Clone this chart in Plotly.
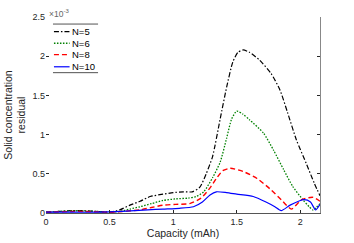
import plotly.graph_objects as go

# values in units of 1e-3
x5 = [0, 0.1, 0.2, 0.3, 0.4, 0.5, 0.58, 0.66, 0.74, 0.82, 0.92, 1.0, 1.08, 1.15, 1.21, 1.26, 1.31, 1.37, 1.42, 1.47, 1.51, 1.55, 1.6, 1.68, 1.77, 1.84, 1.90, 1.97, 2.05, 2.11, 2.155]
y5 = [0.01, 0.02, 0.03, 0.03, 0.02, 0.01, 0.04, 0.10, 0.15, 0.21, 0.24, 0.26, 0.27, 0.27, 0.33, 0.5, 0.72, 1.2, 1.6, 1.93, 2.05, 2.08, 2.05, 1.95, 1.78, 1.57, 1.28, 0.93, 0.62, 0.38, 0.22]

x6 = [0, 0.1, 0.2, 0.3, 0.4, 0.5, 0.58, 0.66, 0.74, 0.83, 0.92, 1.02, 1.12, 1.18, 1.24, 1.31, 1.37, 1.42, 1.46, 1.50, 1.55, 1.60, 1.71, 1.79, 1.87, 1.94, 2.02, 2.07, 2.10, 2.155]
y6 = [0.01, 0.02, 0.03, 0.025, 0.02, 0.01, 0.02, 0.05, 0.08, 0.12, 0.16, 0.18, 0.19, 0.21, 0.27, 0.45, 0.65, 0.95, 1.2, 1.3, 1.26, 1.19, 1.02, 0.80, 0.55, 0.34, 0.17, 0.08, 0.04, 0.12]

x8 = [0, 0.1, 0.2, 0.3, 0.4, 0.5, 0.6, 0.74, 0.83, 0.92, 1.02, 1.13, 1.22, 1.29, 1.34, 1.39, 1.45, 1.55, 1.66, 1.76, 1.85, 1.93, 2.01, 2.10, 2.155]
y8 = [0.01, 0.015, 0.02, 0.02, 0.015, 0.01, 0.02, 0.04, 0.07, 0.10, 0.11, 0.12, 0.19, 0.32, 0.44, 0.54, 0.57, 0.53, 0.44, 0.31, 0.17, 0.05, 0.17, 0.20, 0.15]

x10 = [0, 0.2, 0.4, 0.6, 0.8, 0.92, 1.05, 1.16, 1.23, 1.29, 1.34, 1.42, 1.50, 1.63, 1.73, 1.80, 1.85, 1.92, 2.03, 2.08, 2.12, 2.155]
y10 = [0.01, 0.01, 0.01, 0.02, 0.04, 0.05, 0.06, 0.08, 0.14, 0.23, 0.27, 0.26, 0.24, 0.21, 0.14, 0.08, 0.03, 0.10, 0.17, 0.14, 0.04, 0.11]

series_names = ["N=5", "N=6", "N=8", "N=10"]
xtick_vals = [0, 0.5, 1, 1.5, 2]
xtick_text = ["0", "0.5", "1", "1.5", "2"]
ytick_vals = [0, 0.5, 1, 1.5, 2, 2.5]
ytick_text = ["0", "0.5", "1", "1.5", "2", "2.5"]

FONT = "Liberation Sans, Arial, sans-serif"
TXT = "#262626"

fig = go.Figure()
styles = [("black", "5px,2px,1.5px,2px", 1.2), ("#008000", "1.5px,1.5px", 1.3),
          ("#ff0000", "5px,3px", 1.4), ("#0000ff", "solid", 1.2)]
for (xs, ys), name, (c, d, w) in zip([(x5, y5), (x6, y6), (x8, y8), (x10, y10)], series_names, styles):
    fig.add_trace(go.Scatter(x=xs, y=ys, name=name, mode="lines", showlegend=False,
                             line=dict(color=c, dash=d, width=w, shape="spline", smoothing=0.6)))

# invisible trace for right axis
fig.add_trace(go.Scatter(x=[0], y=[0], yaxis="y2", showlegend=False, mode="markers",
                         marker=dict(opacity=0), hoverinfo="skip"))

# manual compact legend (paper coords)
leg_rows = [0.925, 0.866, 0.808, 0.746]
shapes = [
    dict(type="line", xref="paper", yref="paper", x0=0.0255, x1=0.19, y0=0.964, y1=0.964,
         line=dict(color="#262626", width=0.8)),
    dict(type="line", xref="paper", yref="paper", x0=0.0255, x1=0.19, y0=0.716, y1=0.716,
         line=dict(color="#262626", width=0.8)),
]
annotations = [dict(text="×10<sup>-3</sup>", x=0, y=1.0, xref="paper", yref="paper",
                    xanchor="left", yanchor="bottom", showarrow=False,
                    font=dict(size=8.5, color="#666666"), xshift=1, yshift=-4)]
for yy, name, (c, d, w) in zip(leg_rows, series_names, styles):
    shapes.append(dict(type="line", xref="paper", yref="paper", x0=0.029, x1=0.086, y0=yy, y1=yy,
                       line=dict(color=c, dash=d, width=w)))
    annotations.append(dict(text=name, x=0.088, y=yy, xref="paper", yref="paper",
                            xanchor="left", yanchor="middle", showarrow=False,
                            font=dict(size=9.5, color="black")))

fig.update_layout(
    width=354, height=243,
    margin=dict(l=46, r=34, t=17, b=30),
    paper_bgcolor="white", plot_bgcolor="white",
    font=dict(family=FONT, size=9, color=TXT),
    showlegend=False,
    xaxis=dict(range=[0, 2.155], tickvals=xtick_vals, ticktext=xtick_text, automargin=False,
               ticks="inside", ticklen=3, tickcolor="#262626", showgrid=False, zeroline=False,
               showline=True, linecolor="#555555", linewidth=1,
               title=dict(text="Capacity (mAh)", font=dict(size=10.5, color=TXT), standoff=0)),
    yaxis=dict(range=[0, 2.5], tickvals=ytick_vals, ticktext=ytick_text, automargin=False,
               ticks="inside", ticklen=3, tickcolor="#262626", showgrid=False, zeroline=False,
               showline=False,
               title=dict(text="Solid concentration<br>residual", font=dict(size=10.5, color=TXT), standoff=4)),
    yaxis2=dict(range=[0, 2.5], overlaying="y", side="right", tickvals=ytick_vals, automargin=False,
                showticklabels=False, ticks="inside", ticklen=3, tickcolor="#262626",
                showgrid=False, zeroline=False, showline=True, linecolor="#888888", linewidth=1),
    annotations=annotations,
    shapes=shapes,
)

fig.write_html("out.html", config={"displayModeBar": False, "staticPlot": True},
               post_script="document.body.style.margin='0';document.body.style.overflow='hidden';")
